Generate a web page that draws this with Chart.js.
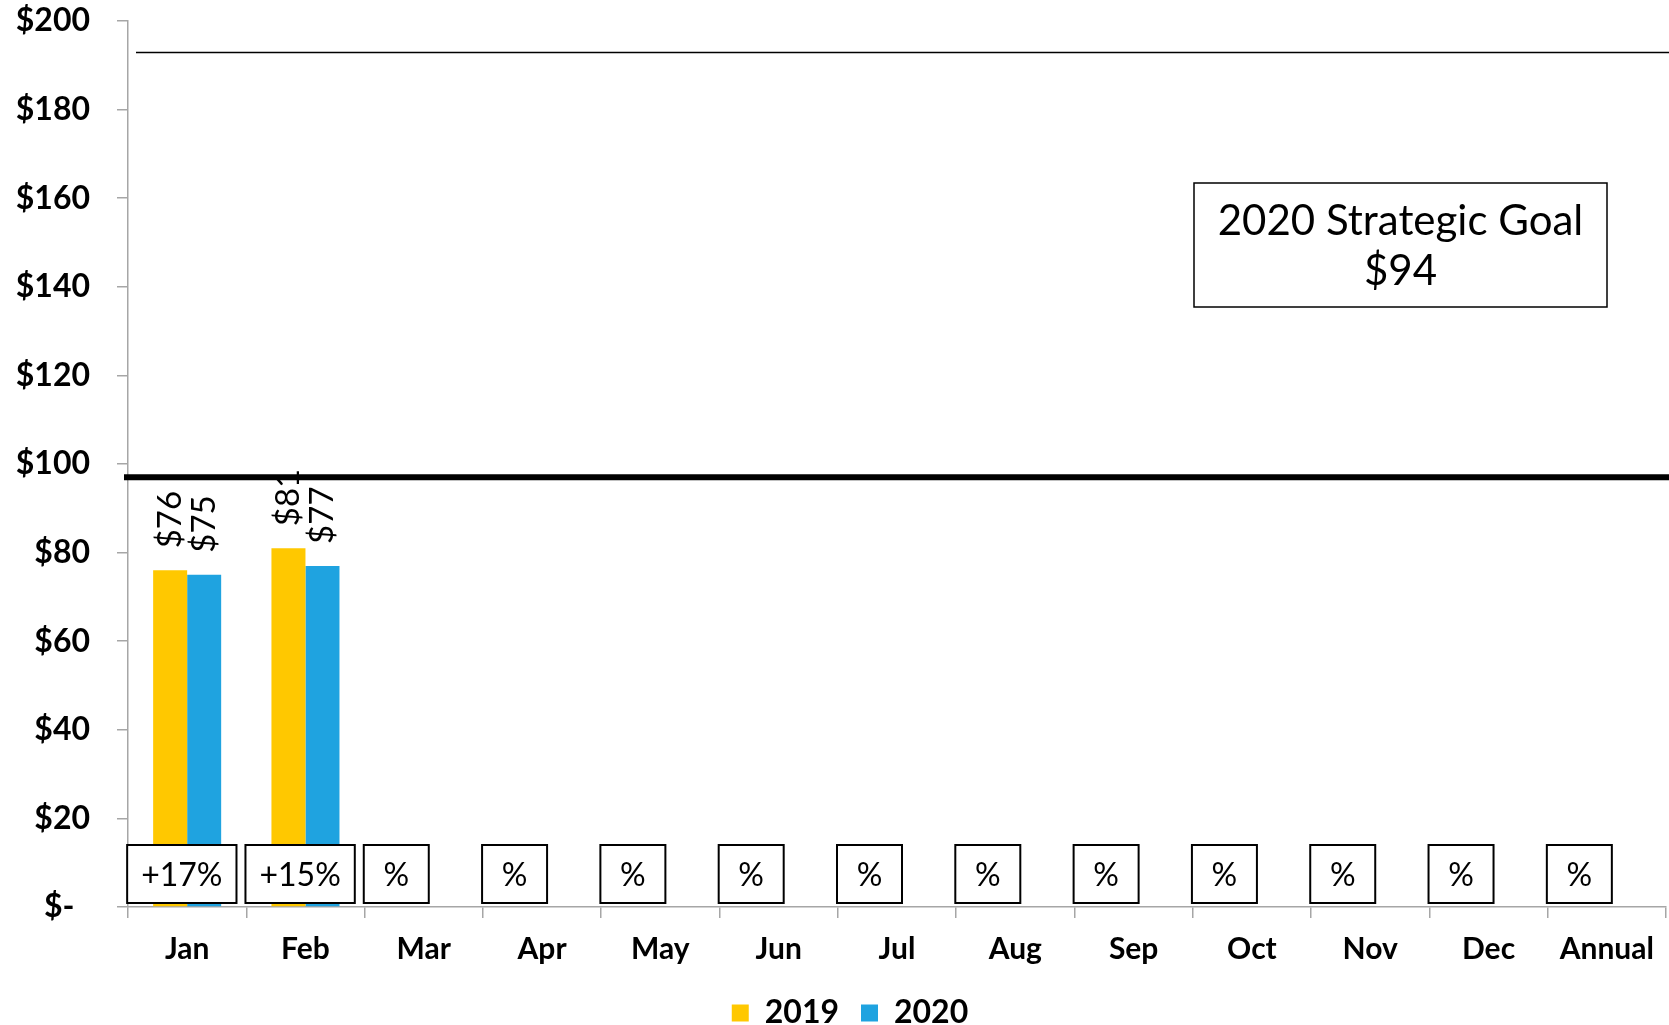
<!DOCTYPE html>
<html>
<head>
<meta charset="utf-8">
<script src="https://cdn.jsdelivr.net/npm/chart.js@4/dist/chart.umd.min.js"></script>
<style>
  html, body { margin: 0; padding: 0; background: #fff; }
  #wrap { width: 1669px; height: 1025px; }
</style>
</head>
<body>
<div id="wrap"><canvas id="chart" width="1669" height="1025"></canvas></div>
<script>
const FONT = "Lato, 'Open Sans', sans-serif";
const AXIS = '#a6a6a6';

const months = ['Jan', 'Feb', 'Mar', 'Apr', 'May', 'Jun', 'Jul', 'Aug', 'Sep', 'Oct', 'Nov', 'Dec', 'Annual'];
const sales2019 = [76, 81, null, null, null, null, null, null, null, null, null, null, null];
const sales2020 = [75, 77, null, null, null, null, null, null, null, null, null, null, null];
const changeLabels = ['+17%', '+15%', '%', '%', '%', '%', '%', '%', '%', '%', '%', '%', '%'];
const goalLevel = 97;
const upperLevel = 193;
const goalNote = ['2020 Strategic Goal', '$94'];

const money = v => v === 0 ? '$-  ' : '$' + v;

// value labels, change boxes, reference lines and the goal note
const overlay = {
  id: 'overlay',
  afterLayout(chart) {
    // legend sits a little right of centre
    chart.legend.left += 17;
    chart.legend.right += 17;
  },
  afterDatasetsDraw(chart) {
    const { ctx, chartArea, scales: { x, y } } = chart;
    ctx.save();

    // rotated value labels above each bar
    ctx.font = `33px ${FONT}`;
    ctx.fillStyle = '#000';
    ctx.textAlign = 'left';
    ctx.textBaseline = 'middle';
    chart.data.datasets.forEach((ds, di) => {
      chart.getDatasetMeta(di).data.forEach((bar, i) => {
        if (ds.data[i] == null) return;
        ctx.save();
        ctx.translate(bar.x, bar.y - 22);
        ctx.rotate(-Math.PI / 2);
        ctx.fillText(money(ds.data[i]), 0, 0);
        ctx.restore();
      });
    });

    // year-over-year change boxes along the baseline
    const base = y.getPixelForValue(0);
    ctx.font = `32px ${FONT}`;
    ctx.textAlign = 'center';
    changeLabels.forEach((txt, i) => {
      const cx = x.getPixelForValue(i);
      const w = Math.max(65, ctx.measureText(txt).width + 28);
      const left = cx - 60;
      ctx.fillStyle = '#fff';
      ctx.fillRect(left, base - 62, w, 58);
      ctx.strokeStyle = '#000';
      ctx.lineWidth = 2;
      ctx.strokeRect(left, base - 62, w, 58);
      ctx.fillStyle = '#000';
      ctx.fillText(txt, left + w / 2, base - 31);
    });

    // reference lines
    ctx.strokeStyle = '#000';
    ctx.lineWidth = 1.5;
    ctx.beginPath();
    const yUp = Math.round(y.getPixelForValue(upperLevel)) + 0.5;
    ctx.moveTo(chartArea.left + 8, yUp);
    ctx.lineTo(chart.width, yUp);
    ctx.stroke();

    ctx.lineWidth = 6;
    ctx.beginPath();
    const yGoal = y.getPixelForValue(goalLevel);
    ctx.moveTo(chartArea.left - 4, yGoal);
    ctx.lineTo(chart.width, yGoal);
    ctx.stroke();

    // goal note
    const bx = 1194, by = 183, bw = 413, bh = 124;
    ctx.lineWidth = 1.5;
    ctx.fillStyle = '#fff';
    ctx.fillRect(bx, by, bw, bh);
    ctx.strokeRect(bx, by, bw, bh);
    ctx.fillStyle = '#000';
    ctx.font = `42px ${FONT}`;
    ctx.textAlign = 'center';
    ctx.fillText(goalNote[0], bx + bw / 2, by + 38);
    ctx.fillText(goalNote[1], bx + bw / 2, by + 88);

    ctx.restore();
  }
};

new Chart(document.getElementById('chart'), {
  type: 'bar',
  data: {
    labels: months,
    datasets: [
      { label: '2019', data: sales2019, backgroundColor: '#FFC800' },
      { label: '2020', data: sales2020, backgroundColor: '#1FA3E0' },
    ],
  },
  options: {
    responsive: false,
    animation: false,
    categoryPercentage: 0.575,
    barPercentage: 1,
    layout: { padding: { top: 0, right: 3, left: 0, bottom: -14 } },
    plugins: {
      legend: {
        position: 'bottom',
        labels: {
          boxWidth: 17, boxHeight: 17, padding: 22,
          color: '#000',
          font: { family: FONT, size: 32, weight: 'bold' },
        },
      },
      tooltip: { enabled: false },
    },
    scales: {
      x: {
        grid: { offset: true, drawOnChartArea: false, tickLength: 11, color: AXIS, lineWidth: 1.5 },
        border: { color: AXIS, width: 1.5 },
        ticks: { color: '#000', padding: 13, font: { family: FONT, size: 30, weight: 'bold' }, maxRotation: 0 },
        afterFit: s => { s.height = 68; },
      },
      y: {
        min: 0, max: 200,
        grid: { drawOnChartArea: false, tickLength: 11, color: AXIS, lineWidth: 1.5 },
        border: { color: AXIS, width: 1.5 },
        ticks: { stepSize: 20, color: '#000', padding: 27, font: { family: FONT, size: 32, weight: 'bold' }, callback: money },
        afterFit: s => { s.width = 128; s.paddingTop = 21; },
      },
    },
  },
  plugins: [overlay],
});
</script>
</body>
</html>
